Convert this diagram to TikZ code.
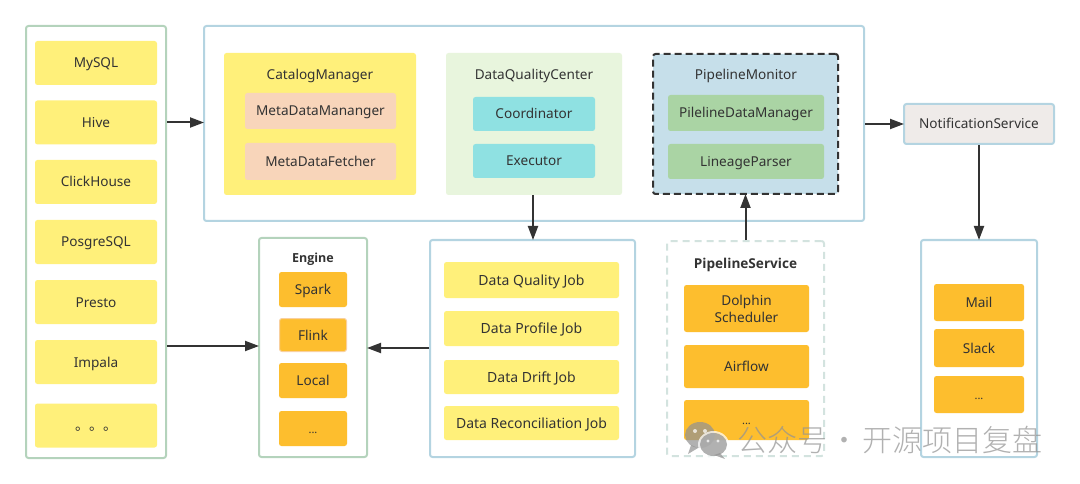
\documentclass[tikz,border=0pt]{standalone}
\usepackage{fontspec}
\setmainfont{Noto Sans}
\newfontfamily\boldfont{Open Sans Bold}
\newfontfamily\cjkfont{Noto Sans CJK SC}
\newfontfamily\cjklight{Noto Sans CJK SC Light}
\usetikzlibrary{arrows.meta}
\definecolor{itemyellow}{HTML}{FFF07A}
\definecolor{itemorange}{HTML}{FDBE2E}
\definecolor{itempeach}{HTML}{F8D5BA}
\definecolor{itemteal}{HTML}{8FE1E2}
\definecolor{itemgreen}{HTML}{AAD4A4}
\definecolor{bggreen}{HTML}{E8F5DD}
\definecolor{bgblue}{HTML}{C6DFEA}
\definecolor{bggrey}{HTML}{EFEBE9}
\definecolor{edgegreen}{HTML}{B4D3BC}
\definecolor{edgeblue}{HTML}{B4D4E1}
\definecolor{edgepale}{HTML}{D3E3DF}
\definecolor{ink}{HTML}{333333}
\tikzset{
  box/.style={rounded corners=2.5pt,inner sep=0pt,text=ink,align=center,font=\fontsize{13.6}{17}\selectfont},
  linebox/.style={box,text height=13pt,text depth=3pt},
  frame/.style={box,draw,line width=2pt,fill=white},
  title/.style={inner sep=0pt,text=ink,text height=13pt,text depth=3pt,font=\fontsize{13.6}{17}\selectfont},
  boldtitle/.style={title,font=\fontsize{13.6}{17}\boldfont},
  dotsbox/.style={box,font=\fontsize{11}{13}\selectfont,text height=9pt,text depth=0pt},
  arrowline/.style={draw=ink,line width=2pt,-{Triangle[length=14pt,width=10pt]},shorten >=-1pt},
}
\begin{document}
\begin{tikzpicture}[x=1pt,y=-1pt]
\useasboundingbox (0,0) rectangle (1080,484);
% Sources
\node[frame,draw=edgegreen,minimum width=140pt,minimum height=432pt] (sources) at (96,242) {};
\tikzset{srcitem/.style={linebox,fill=itemyellow,minimum width=122pt,minimum height=44pt}}
\node[srcitem] (mysql) at (96,63) {MySQL};
\node[srcitem] (hive) at (96,122.5) {Hive};
\node[srcitem] (clickhouse) at (96,182) {ClickHouse};
\node[srcitem] (posgresql) at (96,242) {PosgreSQL};
\node[srcitem] (presto) at (96,302) {Presto};
\node[srcitem] (impala) at (96,362) {Impala};
\node[srcitem,font=\fontsize{14}{17}\cjkfont] (moresrc) at (96,425.5) {。。。};

% Main block
\node[frame,draw=edgeblue,minimum width=660pt,minimum height=195pt] (platform) at (534,123.5) {};
\node[box,fill=itemyellow,minimum width=192pt,minimum height=142pt] (catalog) at (320,124) {};
\node[title] (catalogtitle) at (320,75) {CatalogManager};
\node[linebox,fill=itempeach,minimum width=151pt,minimum height=36pt] (metamanager) at (320.5,111) {MetaDataMananger};
\node[linebox,fill=itempeach,minimum width=151pt,minimum height=37pt] (metafetcher) at (320.5,161.5) {MetaDataFetcher};

\node[box,fill=bggreen,minimum width=176pt,minimum height=142pt] (quality) at (534,124) {};
\node[title] (qualitytitle) at (534,75) {DataQualityCenter};
\node[linebox,fill=itemteal,minimum width=122pt,minimum height=34pt] (coordinator) at (534,114) {Coordinator};
\node[linebox,fill=itemteal,minimum width=122pt,minimum height=34pt] (executor) at (534,161) {Executor};

\node[box,draw=ink,line width=2pt,dash pattern=on 7pt off 4pt,fill=bgblue,minimum width=185pt,minimum height=140pt] (monitor) at (745.5,124) {};
\node[title] (monitortitle) at (746,75) {PipelineMonitor};
\node[linebox,fill=itemgreen,minimum width=156pt,minimum height=36pt] (pipelinedata) at (746,113) {PilelineDataManager};
\node[linebox,fill=itemgreen,minimum width=156pt,minimum height=35pt] (lineage) at (746,161.5) {LineageParser};

% Notification
\node[linebox,draw=edgeblue,line width=2pt,fill=bggrey,minimum width=150pt,minimum height=40pt] (notify) at (979,124) {NotificationService};
\node[frame,draw=edgeblue,minimum width=116pt,minimum height=217pt] (channels) at (979,348.5) {};
\tikzset{oranitem/.style={linebox,fill=itemorange}}
\node[oranitem,minimum width=90pt,minimum height=37pt] (mail) at (979,302.5) {Mail};
\node[oranitem,minimum width=90pt,minimum height=38pt] (slack) at (979,348) {Slack};
\node[dotsbox,fill=itemorange,minimum width=90pt,minimum height=37pt] (morechan) at (979,394.5) {...};

% Engine
\node[frame,draw=edgegreen,minimum width=108pt,minimum height=219pt] (engine) at (313,347.5) {};
\node[boldtitle,font=\fontsize{12.5}{16}\boldfont] (enginetitle) at (313,257) {Engine};
\node[oranitem,minimum width=68pt,minimum height=35pt] (spark) at (313,289.5) {Spark};
\node[oranitem,draw=itempeach!80!itemorange,line width=1pt,minimum width=67pt,minimum height=33pt] (flink) at (313,335) {Flink};
\node[oranitem,minimum width=68pt,minimum height=35pt] (local) at (313,380.5) {Local};
\node[dotsbox,fill=itemorange,minimum width=68pt,minimum height=35pt] (moreeng) at (313,428.5) {...};

% Jobs
\node[frame,draw=edgeblue,minimum width=205pt,minimum height=217pt] (jobs) at (532.5,348.5) {};
\tikzset{jobitem/.style={linebox,fill=itemyellow,minimum width=175pt,font=\fontsize{14}{17}\selectfont}}
\node[jobitem,minimum height=36pt] (qualityjob) at (531.5,280) {Data Quality Job};
\node[jobitem,minimum height=35pt] (profilejob) at (531.5,328.5) {Data Profile Job};
\node[jobitem,minimum height=34pt] (driftjob) at (531.5,377) {Data Drift Job};
\node[jobitem,minimum height=34pt] (reconjob) at (531.5,423) {Data Reconciliation Job};

% Pipeline service
\node[box,draw=edgepale,line width=2pt,dash pattern=on 7pt off 5pt,fill=white,minimum width=157pt,minimum height=215pt] (service) at (745.5,348.5) {};
\node[boldtitle] (servicetitle) at (745.5,263) {PipelineService};
\node[box,fill=itemorange,minimum width=125pt,minimum height=47pt] (dolphin) at (746.5,308.5) {Dolphin\\Scheduler};
\node[oranitem,minimum width=125pt,minimum height=43pt] (airflow) at (746.5,366.5) {Airflow};
\node[dotsbox,fill=itemorange,minimum width=125pt,minimum height=40pt] (moreservice) at (746.5,420) {...};

% Connectors
\coordinate (toengine) at (0,346);
\coordinate (fromjobs) at (0,348);
\coordinate (qualitydown) at (533,0);
\draw[arrowline] (sources.east |- hive) -- (platform.west |- hive);
\draw[arrowline] (sources.east |- toengine) -- (engine.west |- toengine);
\draw[arrowline] (jobs.west |- fromjobs) -- (engine.east |- fromjobs);
\draw[arrowline] (quality.south -| qualitydown) -- (jobs.north -| qualitydown);
\draw[arrowline] (service.north) -- (monitor.south);
\draw[arrowline] (platform.east |- notify) -- (notify.west);
\draw[arrowline] (notify.south) -- (channels.north);

% Watermark
\begin{scope}[opacity=.72]
  \fill[gray!85] (700,435) ellipse [x radius=15pt,y radius=13pt];
  \fill[gray!85] (691,445) -- (688,454) -- (698,448) -- cycle;
  \fill[white] (695,431) circle (2pt) (705,431) circle (2pt);
  \fill[white] (713.5,444.5) ellipse [x radius=15.5pt,y radius=13.5pt];
  \fill[gray!85] (713.5,444.5) ellipse [x radius=13.5pt,y radius=11.5pt];
  \fill[gray!85] (720,453) -- (725,459) -- (714,455) -- cycle;
  \fill[white] (708,441) circle (1.7pt) (718,441) circle (1.7pt);
  \node[inner sep=0pt,anchor=west,text=gray!85,font=\fontsize{30}{33}\cjklight] (watermark) at (737,440) {公众号\hspace{-4pt} · \hspace{-4pt}开源项目复盘};
\end{scope}
\end{tikzpicture}
\end{document}
